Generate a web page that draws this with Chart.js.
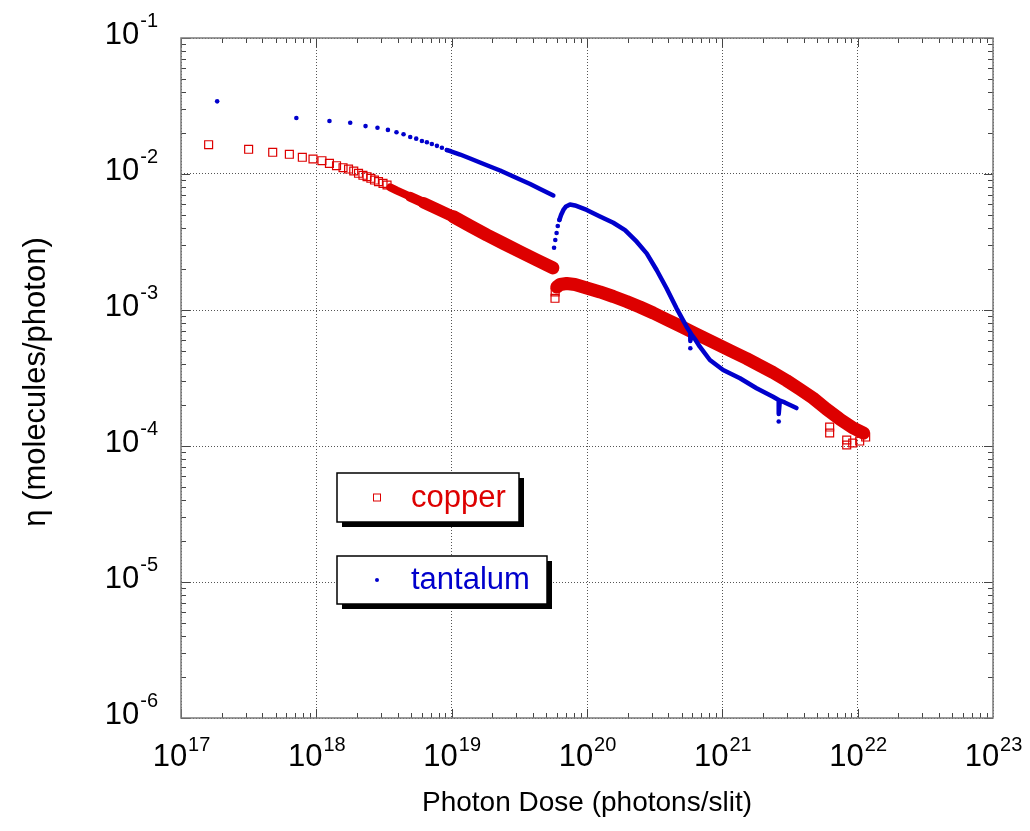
<!DOCTYPE html>
<html>
<head>
<meta charset="utf-8">
<script src="https://cdn.jsdelivr.net/npm/chart.js@4.4.1/dist/chart.umd.min.js"></script>
<style>
  body { margin: 0; background: #fff; }
</style>
</head>
<body>
<canvas id="myChart" width="1030" height="831"></canvas>
<script>
// copper: single squares (sparse start, isolated ones, scatter at the end)
const cuDose = [1.60e17, 3.16e17, 4.76e17, 6.32e17, 7.88e17, 9.45e17, 1.10e18, 1.25e18, 1.41e18, 1.575e18,
  1.73e18, 1.89e18, 2.05e18, 2.21e18, 2.37e18, 2.53e18, 2.69e18, 2.88e18, 3.11e18, 3.33e18,
  5.80e19, 5.82e19, 6.21e21, 6.21e21, 8.30e21, 8.30e21, 9.19e21, 1.035e22, 1.146e22];
const cuEta = [1.642e-2, 1.519e-2, 1.444e-2, 1.396e-2, 1.327e-2, 1.289e-2, 1.252e-2, 1.198e-2, 1.151e-2, 1.112e-2,
  1.088e-2, 1.052e-2, 1.012e-2, 9.78e-3, 9.55e-3, 9.30e-3, 9.03e-3, 8.78e-3, 8.54e-3, 8.30e-3,
  1.219e-3, 1.357e-3, 1.379e-4, 1.246e-4, 1.107e-4, 1.017e-4, 1.052e-4, 1.088e-4, 1.164e-4];

// copper: dense run before the break
const cuBand1Dose = [3.52e18, 3.94e18, 4.94e18, 6.19e18, 7.78e18, 1.031e19, 1.37e19, 1.82e19, 2.41e19, 3.20e19, 4.25e19, 5.60e19];
const cuBand1Eta = [7.96e-3, 7.54e-3, 6.81e-3, 6.15e-3, 5.53e-3, 4.85e-3, 4.15e-3, 3.56e-3, 3.09e-3, 2.68e-3, 2.33e-3, 2.04e-3];

// copper: dense run after the break
const cuBand2Dose = [5.98e19, 6.32e19, 7.08e19, 8.15e19, 9.95e19, 1.247e20, 1.564e20, 1.96e20, 2.46e20, 3.09e20,
  3.87e20, 4.86e20, 6.09e20, 7.64e20, 9.58e20, 1.20e21, 1.51e21, 1.89e21, 2.37e21, 2.98e21,
  3.73e21, 4.68e21, 5.87e21, 7.37e21, 9.23e21, 1.107e22];
const cuBand2Eta = [1.476e-3, 1.540e-3, 1.566e-3, 1.540e-3, 1.451e-3, 1.357e-3, 1.257e-3, 1.155e-3, 1.052e-3, 9.50e-4,
  8.51e-4, 7.63e-4, 6.83e-4, 6.12e-4, 5.48e-4, 4.91e-4, 4.40e-4, 3.91e-4, 3.47e-4, 3.03e-4,
  2.62e-4, 2.25e-4, 1.871e-4, 1.579e-4, 1.357e-4, 1.246e-4];

// tantalum: single dots
const taDose = [1.85e17, 7.12e17, 1.25e18, 1.78e18, 2.31e18, 2.83e18, 3.38e18, 3.91e18, 4.41e18, 4.94e18,
  5.47e18, 6.03e18, 6.56e18, 7.14e18, 7.78e18, 8.47e18, 9.22e18,
  5.71e19, 5.83e19, 5.96e19, 6.08e19, 6.25e19, 5.80e20, 2.61e21];
const taEta = [3.42e-2, 2.58e-2, 2.45e-2, 2.38e-2, 2.25e-2, 2.19e-2, 2.11e-2, 2.03e-2, 1.96e-2, 1.87e-2,
  1.82e-2, 1.75e-2, 1.71e-2, 1.66e-2, 1.61e-2, 1.56e-2, 1.50e-2,
  2.87e-3, 3.27e-3, 3.68e-3, 4.15e-3, 4.59e-3, 5.23e-4, 1.514e-4];

// tantalum: dense runs
const taLine1Dose = [9.22e18, 9.75e18, 1.155e19, 1.37e19, 1.62e19, 1.92e19, 2.28e19, 2.70e19, 3.20e19, 3.80e19, 4.50e19, 5.64e19];
const taLine1Eta = [1.50e-2, 1.476e-2, 1.391e-2, 1.30e-2, 1.215e-2, 1.136e-2, 1.061e-2, 9.83e-3, 9.11e-3, 8.44e-3, 7.76e-3, 6.95e-3];
const taLine2Dose = [6.25e19, 6.43e19, 6.69e19, 7.00e19, 7.49e19, 8.15e19, 9.95e19, 1.247e20, 1.564e20, 1.91e20,
  2.33e20, 2.76e20, 3.27e20, 3.87e20, 4.59e20, 5.44e20, 5.86e20, 5.80e20, 5.96e20, 6.27e20,
  6.82e20, 8.09e20, 1.014e21, 1.35e21, 1.79e21, 2.37e21, 2.61e21, 2.61e21, 2.66e21, 2.89e21, 3.53e21];
const taLine2Eta = [4.59e-3, 4.99e-3, 5.44e-3, 5.77e-3, 5.97e-3, 5.87e-3, 5.44e-3, 4.87e-3, 4.38e-3, 3.87e-3,
  3.18e-3, 2.61e-3, 1.968e-3, 1.444e-3, 1.029e-3, 7.54e-4, 6.72e-4, 5.92e-4, 6.55e-4, 6.12e-4,
  5.37e-4, 4.29e-4, 3.62e-4, 3.15e-4, 2.66e-4, 2.30e-4, 2.18e-4, 1.72e-4, 2.16e-4, 2.09e-4, 1.90e-4];

// axis tick labels (powers of ten)
const xExponents = [17, 18, 19, 20, 21, 22, 23];
const yExponents = [-1, -2, -3, -4, -5, -6];

const RED = '#dd0000';
const BLUE = '#0000cc';
const FONT = "'Liberation Sans', Arial, Helvetica, sans-serif";

const pts = (xs, ys) => xs.map((v, i) => ({ x: v, y: ys[i] }));

// band gets thicker as the points get denser
const bandWidth = c => (c.p0.x < 400 ? 8 : c.p0.x < 420 ? 10 : c.p0.x < 440 ? 11.5 : 13);

const bandLine = (xs, ys) => ({
  data: pts(xs, ys),
  showLine: true,
  pointRadius: 0,
  borderColor: RED,
  borderWidth: 13,
  borderCapStyle: 'round',
  borderJoinStyle: 'round',
  segment: { borderWidth: bandWidth }
});

const taLine = (xs, ys) => ({
  data: pts(xs, ys),
  showLine: true,
  pointRadius: 0,
  borderColor: BLUE,
  borderWidth: 4.5,
  borderCapStyle: 'round',
  borderJoinStyle: 'round'
});

// inner ticks, frame, tick labels, titles, legend boxes
const decor = {
  id: 'decor',
  afterDraw(chart) {
    const { ctx, chartArea: a, scales: { x, y } } = chart;
    ctx.save();

    // tick marks inside the frame
    ctx.strokeStyle = '#444';
    ctx.lineWidth = 1;
    ctx.beginPath();
    for (let e = 17; e < 23; e++) {
      for (let m = 1; m < 10; m++) {
        const px = Math.round(x.getPixelForValue(m * Math.pow(10, e))) + 0.5;
        const len = m === 1 ? 9 : 5;
        ctx.moveTo(px, a.bottom); ctx.lineTo(px, a.bottom - len);
        ctx.moveTo(px, a.top); ctx.lineTo(px, a.top + len);
      }
    }
    for (let e = -6; e < -1 + 0.5; e++) {
      for (let m = 1; m < 10; m++) {
        const v = m * Math.pow(10, e);
        if (v > 0.1 + 1e-12) continue;
        const py = Math.round(y.getPixelForValue(v)) + 0.5;
        const len = m === 1 ? 9 : 5;
        ctx.moveTo(a.left, py); ctx.lineTo(a.left + len, py);
        ctx.moveTo(a.right, py); ctx.lineTo(a.right - len, py);
      }
    }
    ctx.stroke();

    // frame
    ctx.strokeStyle = '#7a7a7a';
    ctx.lineWidth = 1.5;
    ctx.strokeRect(a.left, a.top, a.right - a.left, a.bottom - a.top);

    // tick labels with superscripts
    ctx.fillStyle = '#000';
    ctx.textBaseline = 'alphabetic';
    const big = '31px ' + FONT, small = '20px ' + FONT;
    xExponents.forEach(e => {
      const px = x.getPixelForValue(Math.pow(10, e));
      ctx.font = big; const w1 = ctx.measureText('10').width;
      ctx.font = small; const w2 = ctx.measureText(String(e)).width;
      const left = px - (w1 + w2) / 2;
      ctx.font = big; ctx.textAlign = 'left'; ctx.fillText('10', left, 766);
      ctx.font = small; ctx.fillText(String(e), left + w1 + 1, 751);
    });
    yExponents.forEach(e => {
      const py = y.getPixelForValue(Math.pow(10, e));
      ctx.font = small; const w2 = ctx.measureText(String(e)).width;
      ctx.textAlign = 'right';
      ctx.fillText(String(e), 158, py - 11);
      ctx.font = big;
      ctx.fillText('10', 158 - w2 - 1, py + 6);
    });

    // axis titles
    ctx.font = '28px ' + FONT;
    ctx.textAlign = 'center';
    ctx.textBaseline = 'middle';
    ctx.fillText('Photon Dose (photons/slit)', (a.left + a.right) / 2, 803);
    ctx.save();
    ctx.translate(36, 382);
    ctx.rotate(-Math.PI / 2);
    ctx.font = '31px ' + FONT;
    ctx.fillText('\u03b7 (molecules/photon)', 0, 0);
    ctx.restore();

    // legend boxes with drop shadow
    const boxes = [
      { x: 337, y: 473, w: 182, h: 49, label: 'copper', color: RED, mark: 'rect' },
      { x: 337, y: 556, w: 210, h: 48, label: 'tantalum', color: BLUE, mark: 'dot' }
    ];
    boxes.forEach(b => {
      ctx.fillStyle = '#000';
      ctx.fillRect(b.x + 5, b.y + 5, b.w, b.h);
      ctx.fillStyle = '#fff';
      ctx.fillRect(b.x, b.y, b.w, b.h);
      ctx.strokeStyle = '#000';
      ctx.lineWidth = 1.5;
      ctx.strokeRect(b.x, b.y, b.w, b.h);
      const cy = b.y + b.h / 2;
      if (b.mark === 'rect') {
        ctx.strokeStyle = b.color;
        ctx.lineWidth = 1;
        ctx.strokeRect(373.5, cy - 3.5, 7, 7);
      } else {
        ctx.fillStyle = b.color;
        ctx.beginPath(); ctx.arc(377, cy, 2, 0, Math.PI * 2); ctx.fill();
      }
      ctx.fillStyle = b.color;
      ctx.font = '31px ' + FONT;
      ctx.textAlign = 'left';
      ctx.textBaseline = 'alphabetic';
      ctx.fillText(b.label, 411, cy + 9);
    });
    ctx.restore();
  }
};

const ctx = document.getElementById('myChart').getContext('2d');
const myChart = new Chart(ctx, {
  type: 'scatter',
  data: {
    datasets: [
      // tantalum first so it is drawn on top of copper
      taLine(taLine1Dose, taLine1Eta),
      taLine(taLine2Dose, taLine2Eta),
      {
        data: pts(taDose, taEta),
        pointStyle: 'circle',
        pointRadius: 2.3,
        backgroundColor: BLUE,
        borderWidth: 0
      },
      {
        data: pts(cuDose, cuEta),
        pointStyle: 'rect',
        pointRadius: 5.6,
        borderColor: RED,
        borderWidth: 1.2,
        backgroundColor: 'rgba(255,255,255,0)'
      },
      bandLine(cuBand1Dose, cuBand1Eta),
      bandLine(cuBand2Dose, cuBand2Eta)
    ]
  },
  options: {
    responsive: false,
    animation: false,
    layout: { padding: { left: 181, right: 37, top: 38, bottom: 113 } },
    plugins: { legend: { display: false }, tooltip: { enabled: false } },
    scales: {
      x: {
        type: 'logarithmic',
        min: 1e17,
        max: 1e23,
        afterBuildTicks: s => { s.ticks = xExponents.map(e => ({ value: Math.pow(10, e) })); },
        ticks: { display: false },
        grid: { color: '#555', lineWidth: 1, drawTicks: false },
        border: { display: false, dash: [1, 2] }
      },
      y: {
        type: 'logarithmic',
        min: 1e-6,
        max: 1e-1,
        afterBuildTicks: s => { s.ticks = yExponents.map(e => ({ value: Math.pow(10, e) })); },
        ticks: { display: false },
        grid: { color: '#555', lineWidth: 1, drawTicks: false },
        border: { display: false, dash: [1, 2] }
      }
    }
  },
  plugins: [decor]
});
</script>
</body>
</html>
